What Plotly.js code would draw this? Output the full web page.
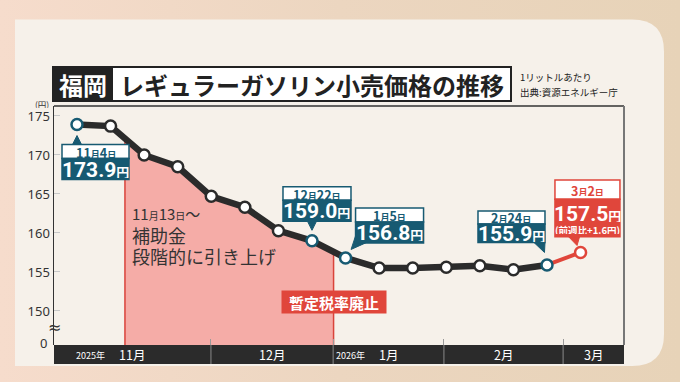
<!DOCTYPE html>
<html><head><meta charset="utf-8">
<script src="https://cdn.plot.ly/plotly-3.0.1.min.js"></script>
<style>html,body{margin:0;padding:0;background:linear-gradient(90deg,#f6dccc,#ecd6c0 50%,#e7d3b8);}#chart{width:680px;height:382px;}</style>
</head><body><div id="chart"></div>
<script>
// ---- data ----
const dates = ['2025-11-04','2025-11-10','2025-11-17','2025-11-25','2025-12-01','2025-12-08','2025-12-15','2025-12-22',
               '2026-01-05','2026-01-13','2026-01-19','2026-02-02','2026-02-09','2026-02-16','2026-02-24','2026-03-02'];
const prices = [173.9,173.7,170.0,168.5,164.7,163.3,160.3,159.0,156.8,155.5,155.5,155.6,155.8,155.3,155.9,157.5];
const monthLabels = ['11月','12月','1月','2月','3月'];
const yearLabels = ['2025年','2026年'];
const yTicks = [150,155,160,165,170,175];
const subsidyStart = '2025-11-13';
const taxAbolished = '2025-12-31';
const calloutDates = ['2025-11-04','2025-12-22','2026-01-05','2026-02-24','2026-03-02'];
const calloutLabels = ['11月4日','12月22日','1月5日','2月24日','3月2日'];
const calloutNotes = ['','','','','(前週比+1.6円)'];

// ---- styles ----
const teal = '#175a72', red = '#e0463b', pink = '#f5aca7', ink = '#2b2b2b';
const JP = '"Noto Sans CJK JP", "Noto Sans", sans-serif';
const L = 54, R = 624, T = 106, B = 345;
const px2p = px => (px - L) / (R - L);
const py2p = py => (B - py) / (B - T);
const yMin = 145.64, yMax = 176.28;

const idx = prices.map((_, i) => i);
const tms = dates.map(d => Date.parse(d));
function dateToIdx(d) {
  const t = Date.parse(d);
  for (let i = 0; i < tms.length - 1; i++) if (t >= tms[i] && t <= tms[i+1]) return i + (t - tms[i]) / (tms[i+1] - tms[i]);
  return 0;
}
function valAt(f) { const i = Math.floor(f); return prices[i] + (f - i) * (prices[i+1] - prices[i]); }

const s = dateToIdx(subsidyStart), e = dateToIdx(taxAbolished);
const fx = [s], fy = [valAt(s)];
idx.forEach(k => { if (k > s && k < e) { fx.push(k); fy.push(prices[k]); } });
fx.push(e, e, s, s); fy.push(valAt(e), yMin - 1, yMin - 1, valAt(s));

const cIdx = calloutDates.map(d => dates.indexOf(d));
const last = prices.length - 1;
const mColors = idx.map(i => i === last ? red : (cIdx.includes(i) ? teal : ink));

const traces = [
  {x: fx, y: fy, mode: 'lines', fill: 'toself', fillcolor: pink, line: {color: '#d9443b', width: 1.5}, hoverinfo: 'skip'},
  {x: idx.slice(0, last), y: prices.slice(0, last), mode: 'lines', line: {color: ink, width: 6.5}, hoverinfo: 'skip'},
  {x: idx.slice(last - 1), y: prices.slice(last - 1), mode: 'lines', line: {color: red, width: 4}, hoverinfo: 'skip'},
  {x: idx, y: prices, mode: 'markers', marker: {size: 11, color: '#fff', line: {color: mColors, width: 2.5}}, hoverinfo: 'skip'}
];

// month edges (axis positions)
const monthEdgeX = [3.99, 7.63, 10.93, 14.48];
const xr = [-0.685, 16.294];

const shapes = [];
const ann = [];
const A = (o) => ann.push(Object.assign({showarrow: false, xanchor: 'center', yanchor: 'middle'}, o));
// panel
const pl = 15, pt = 19.5, pr = 664, pb = 366, rad = 32;
shapes.push({type: 'path', xref: 'paper', yref: 'paper', layer: 'below', fillcolor: '#f6f1ea', line: {width: 0},
  path: `M ${px2p(pl)} ${py2p(pt)} L ${px2p(pr - rad)} ${py2p(pt)} Q ${px2p(pr)} ${py2p(pt)} ${px2p(pr)} ${py2p(pt + rad)} L ${px2p(pr)} ${py2p(pb - rad)} Q ${px2p(pr)} ${py2p(pb)} ${px2p(pr - rad)} ${py2p(pb)} L ${px2p(pl)} ${py2p(pb)} Z`});
// plot frame
shapes.push({type: 'line', xref: 'paper', yref: 'paper', x0: 0, x1: 1, y0: 1, y1: 1, line: {color: '#333', width: 1.5}});
shapes.push({type: 'line', xref: 'paper', yref: 'paper', x0: 1, x1: 1, y0: 0, y1: 1, line: {color: '#777', width: 2}});
// bottom bar
shapes.push({type: 'rect', xref: 'paper', yref: 'paper', x0: 0, x1: 1, y0: py2p(364), y1: 0, fillcolor: '#2b2b2b', line: {width: 0}});
monthEdgeX.forEach(v => shapes.push({type: 'line', xref: 'x', yref: 'paper', x0: v, x1: v, y0: py2p(364), y1: 0, line: {color: '#8a8a8a', width: 1}}));
const edges = [xr[0], ...monthEdgeX, xr[1]];
monthLabels.forEach((m, i) => A({xref: 'x', yref: 'paper', x: (edges[i] + edges[i+1]) / 2, y: py2p(354.5),
  text: m, font: {family: JP, size: 12.5, color: '#fff'}}));
A({xref: 'paper', yref: 'paper', x: px2p(74), y: py2p(355), xanchor: 'left', text: yearLabels[0], font: {family: JP, size: 9, color: '#fff'}});
A({xref: 'x', yref: 'paper', x: monthEdgeX[1], xshift: 1, y: py2p(355), xanchor: 'left', text: yearLabels[1], font: {family: JP, size: 9, color: '#fff'}});

// title
shapes.push({type: 'rect', xref: 'paper', yref: 'paper', x0: px2p(53), x1: px2p(112), y0: py2p(101), y1: py2p(67), fillcolor: '#222', line: {color: '#222', width: 2}});
shapes.push({type: 'rect', xref: 'paper', yref: 'paper', x0: px2p(112), x1: px2p(511), y0: py2p(101), y1: py2p(67), fillcolor: '#fff', line: {color: '#222', width: 2}});
A({xref: 'paper', yref: 'paper', x: px2p(82.5), y: py2p(84), text: '福岡', font: {family: JP, size: 24, color: '#fff', weight: 'bold'}});
A({xref: 'paper', yref: 'paper', x: px2p(311.5), y: py2p(84), text: 'レギュラーガソリン小売価格の推移', font: {family: JP, size: 24, color: '#222', weight: 'bold'}});
A({xref: 'paper', yref: 'paper', x: px2p(518), y: py2p(77), xanchor: 'left', text: '1リットルあたり', font: {family: JP, size: 9.5, color: '#222'}});
A({xref: 'paper', yref: 'paper', x: px2p(518), y: py2p(92), xanchor: 'left', text: '出典:資源エネルギー庁', font: {family: JP, size: 9.5, color: '#222'}});
A({xref: 'paper', yref: 'paper', x: px2p(51), y: py2p(103.5), xanchor: 'right', text: '(円)', height: 9, font: {family: JP, size: 8.5, color: '#333'}});
A({xref: 'paper', yref: 'paper', x: px2p(49), y: py2p(342.5), xanchor: 'right', text: '0', font: {family: 'Noto Sans', size: 13, color: '#333'}});
A({xref: 'paper', yref: 'paper', x: px2p(54), y: py2p(327), text: '≈', font: {family: 'DejaVu Sans', size: 16, color: '#333'}});

// fill notes
const sm = (t, z) => `<span style="font-size:${z}px">${t}</span>`;
A({xref: 'paper', yref: 'paper', x: px2p(130), y: py2p(213), xanchor: 'left',
  text: '11' + sm('月', 10) + '13' + sm('日', 10) + '～', font: {family: JP, size: 15, color: '#333'}});
A({xref: 'paper', yref: 'paper', x: px2p(130), y: py2p(235), xanchor: 'left', text: '補助金', font: {family: JP, size: 18, color: '#333'}});
A({xref: 'paper', yref: 'paper', x: px2p(130), y: py2p(256), xanchor: 'left', text: '段階的に引き上げ', font: {family: JP, size: 18, color: '#333'}});
A({xref: 'x', yref: 'paper', x: e, y: py2p(302), text: '暫定税率廃止', bgcolor: red, width: 100, height: 18, borderpad: 2,
  font: {family: JP, size: 15, color: '#fff', weight: 'bold'}});

// callouts: geometry in screen px offsets from the point (y down)
const geo = [
  {bx: [-15, 52], wy: [20, 34], vy: [34, 55], tail: [[-4.5, 20], [4.5, 20], [0, 11]]},
  {bx: [-29, 39], wy: [-54, -40.5], vy: [-40.5, -19.5], tail: [[-4.5, -19.5], [4.5, -19.5], [0, -10.5]]},
  {bx: [10, 78], wy: [-50, -36], vy: [-36, -15], tail: [[10, -22], [20, -15], [5.5, -8.5]]},
  {bx: [-69, -2], wy: [-54, -41], vy: [-41, -22.5], tail: [[-13, -22.5], [-2, -22.5], [-2.5, -12.5]]},
  {bx: [-25.6, 39.4], wy: [-72.5, -53.2], vy: [-53.2, -15.8], tail: [[-12, -15.8], [-1, -15.8], [-3.5, -7]]}
];
cIdx.forEach((k, n) => {
  const g = geo[n], col = k === last ? red : teal;
  const base = {xref: 'x', yref: 'y', xsizemode: 'pixel', ysizemode: 'pixel', xanchor: k, yanchor: prices[k]};
  shapes.push(Object.assign({type: 'path', fillcolor: col, line: {color: col, width: 1},
    path: 'M ' + g.tail.map(p => p[0] + ' ' + (-p[1])).join(' L ') + ' Z'}, base));
  shapes.push(Object.assign({type: 'rect', x0: g.bx[0], x1: g.bx[1], y0: -g.wy[0], y1: -g.wy[1], fillcolor: '#fff', line: {color: col, width: 1.5}}, base));
  shapes.push(Object.assign({type: 'rect', x0: g.bx[0], x1: g.bx[1], y0: -g.vy[0], y1: -g.vy[1], fillcolor: col, line: {color: col, width: 1.5}}, base));
  const cx = (g.bx[0] + g.bx[1]) / 2;
  const lab = calloutLabels[n].replace(/([月日])/g, (m) => sm(m, 9));
  A({x: k, y: prices[k], xshift: cx, yshift: -(g.wy[0] + g.wy[1]) / 2 - 0.5, text: lab, height: 11, borderpad: 0,
    font: {family: JP, size: 12.5, color: col, weight: 'bold'}});
  const note = calloutNotes[n];
  const vyc = note ? g.vy[0] + 14 : (g.vy[0] + g.vy[1]) / 2;
  A({x: k, y: prices[k], xshift: cx, yshift: -vyc, height: 17, borderpad: 0,
    text: prices[k].toFixed(1) + sm('円', 13), font: {family: 'Roboto, ' + JP, size: 21, color: '#fff', weight: 'bold'}});
  if (note) A({x: k, y: prices[k], xshift: cx, yshift: -(g.vy[1] - 7.5), text: note, height: 9, borderpad: 0,
    font: {family: JP, size: 9.5, color: '#fff', weight: 'bold'}});
});

const layout = {
  width: 680, height: 382, margin: {l: L, r: 680 - R, t: T, b: 382 - B},
  paper_bgcolor: 'rgba(0,0,0,0)', plot_bgcolor: '#ffffff', showlegend: false,
  xaxis: {range: xr, showgrid: false, zeroline: false, showticklabels: false, ticks: 'inside', ticklen: 6,
          tickcolor: '#9a9a9a', tickvals: monthEdgeX, showline: false},
  yaxis: {range: [yMin, yMax], tickvals: yTicks, ticks: 'inside', ticklen: 6, tickcolor: '#c8c8c8',
          showgrid: false, zeroline: false, showline: true, linecolor: '#333', linewidth: 1.5,
          tickfont: {family: 'Noto Sans', size: 13, color: '#333'}},
  shapes: shapes, annotations: ann
};
Plotly.newPlot('chart', traces, layout, {displayModeBar: false, staticPlot: true});
</script></body></html>
